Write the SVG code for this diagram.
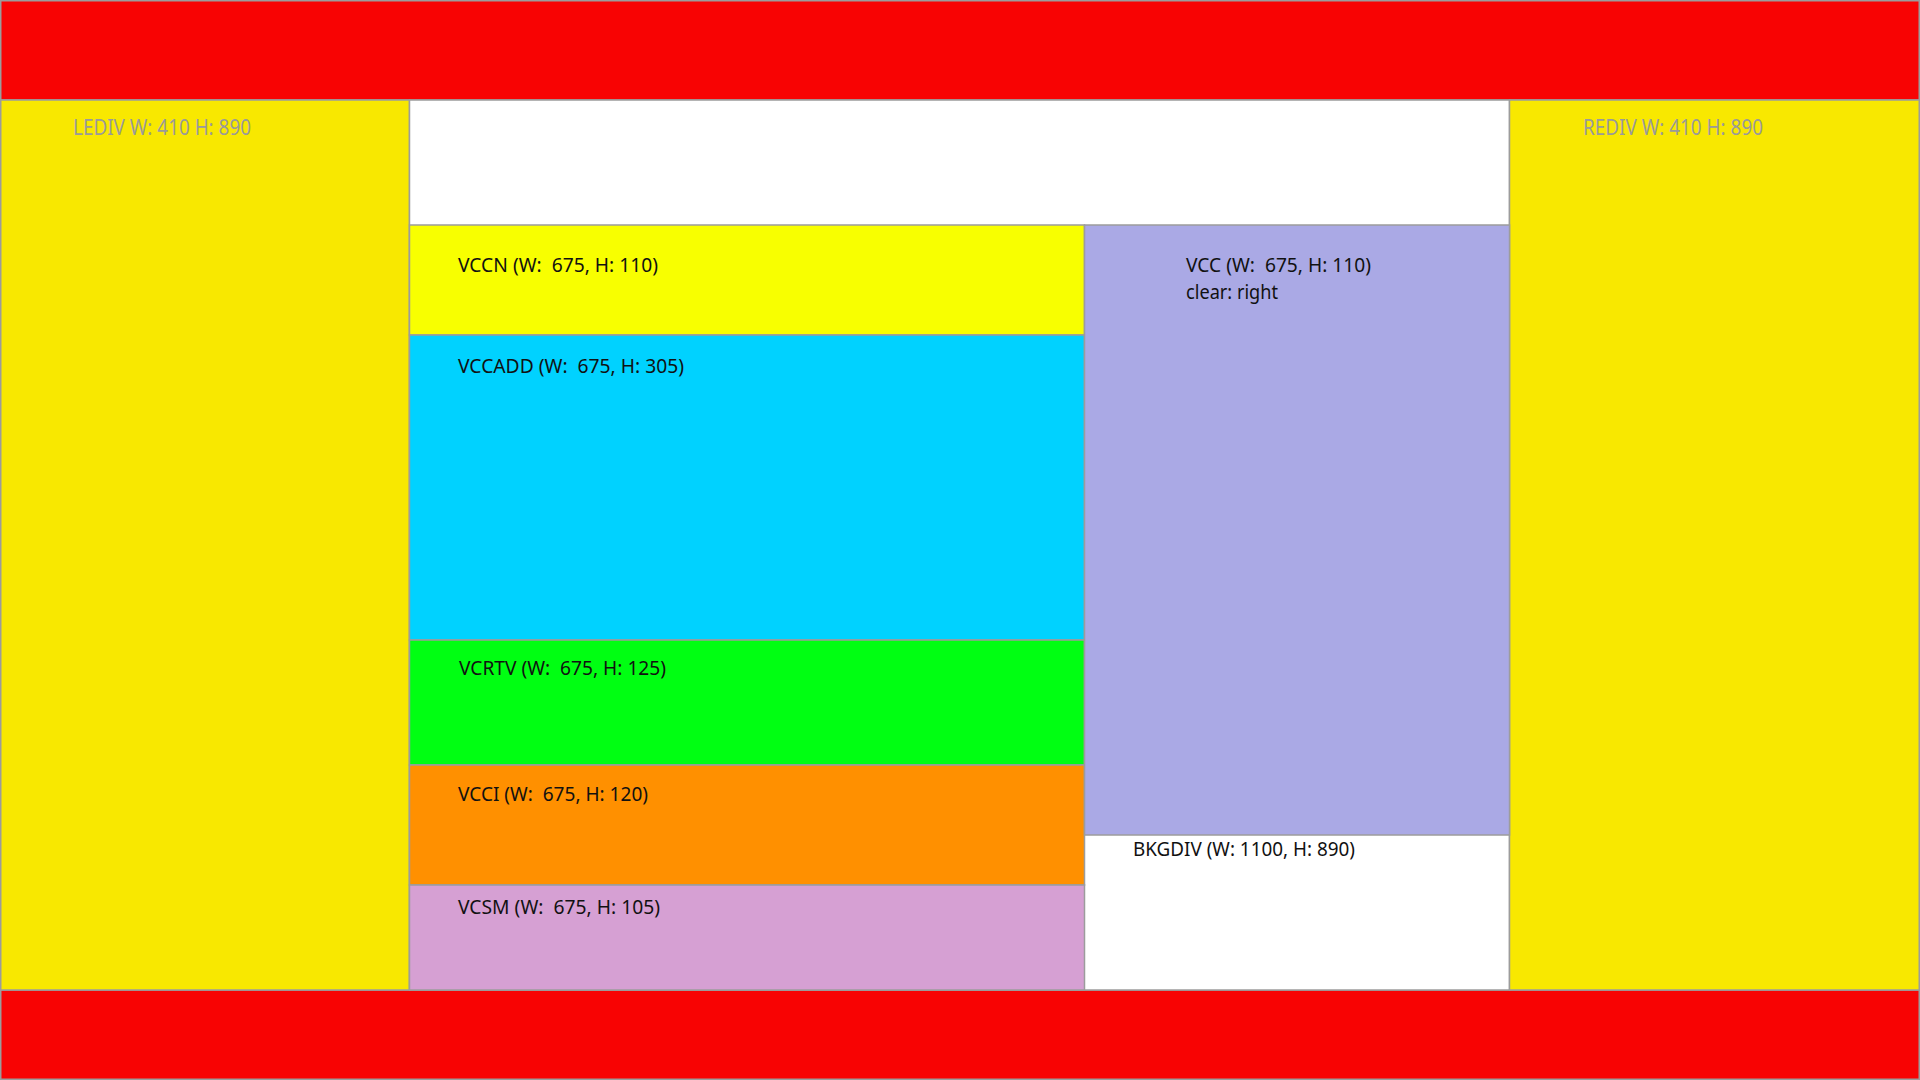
<svg xmlns="http://www.w3.org/2000/svg" width="1920" height="1080" viewBox="0 0 1920 1080">
<style>
rect { stroke: #9c9c9c; stroke-width: 1.5; }
text { font-family: "Noto Sans", "Open Sans", sans-serif; font-size: 20px; fill: #111111; white-space: pre; }
.side { font-size: 21px; fill: #9a9a9a; }
</style>
<rect x="0" y="0" width="1920" height="1080" fill="#ffffff" stroke="none"/>
<g id="top-bar"><rect x="0.75" y="0.75" width="1918.5" height="99.25" fill="#f80303"/></g>
<g id="bottom-bar"><rect x="0.75" y="990" width="1918.5" height="89.25" fill="#f80303"/></g>
<g id="lediv">
<rect x="0.75" y="100" width="408.75" height="890" fill="#f8e800"/>
<text class="side" x="73" y="134.5" textLength="178" lengthAdjust="spacingAndGlyphs">LEDIV W: 410 H: 890</text>
</g>
<g id="bkgdiv">
<rect x="409.5" y="100" width="1100" height="890" fill="#ffffff"/>
<text x="1133" y="856" textLength="222" lengthAdjust="spacingAndGlyphs">BKGDIV (W: 1100, H: 890)</text>
</g>
<g id="rediv">
<rect x="1509.5" y="100" width="409.75" height="890" fill="#f8e800"/>
<text class="side" x="1583" y="134.5" textLength="180" lengthAdjust="spacingAndGlyphs">REDIV W: 410 H: 890</text>
</g>
<g id="vccn">
<rect x="409.5" y="225" width="675" height="110" fill="#f8ff00"/>
<text x="458" y="272" textLength="200" lengthAdjust="spacingAndGlyphs">VCCN (W:  675, H: 110)</text>
</g>
<g id="vccadd">
<rect x="409.5" y="335" width="675" height="305" fill="#00d2ff"/>
<text x="458" y="372.5" textLength="226" lengthAdjust="spacingAndGlyphs">VCCADD (W:  675, H: 305)</text>
</g>
<g id="vcrtv">
<rect x="409.5" y="640" width="675" height="125" fill="#00ff12"/>
<text x="459" y="675" textLength="207" lengthAdjust="spacingAndGlyphs">VCRTV (W:  675, H: 125)</text>
</g>
<g id="vcci">
<rect x="409.5" y="765" width="675" height="120" fill="#ff9000"/>
<text x="458" y="801" textLength="190" lengthAdjust="spacingAndGlyphs">VCCI (W:  675, H: 120)</text>
</g>
<g id="vcsm">
<rect x="409.5" y="885" width="675" height="105" fill="#d6a0d3"/>
<text x="458" y="913.5" textLength="202" lengthAdjust="spacingAndGlyphs">VCSM (W:  675, H: 105)</text>
</g>
<g id="vcc">
<rect x="1084.5" y="225" width="425" height="610" fill="#aaa9e5"/>
<text x="1186" y="272" textLength="185" lengthAdjust="spacingAndGlyphs">VCC (W:  675, H: 110)</text>
<text x="1186" y="299" textLength="92" lengthAdjust="spacingAndGlyphs">clear: right</text>
</g>
<g id="connectors"></g>
</svg>
